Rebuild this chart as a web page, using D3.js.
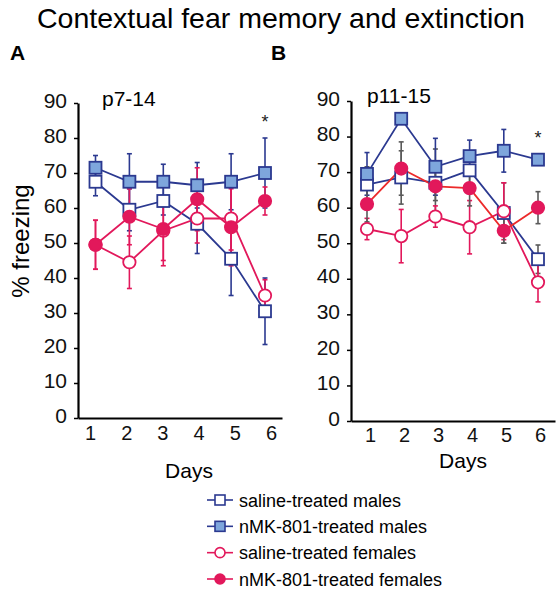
<!DOCTYPE html>
<html><head><meta charset="utf-8">
<script src="https://cdn.jsdelivr.net/npm/d3@7"></script>
<style>
body{margin:0;background:#fff;}
svg{font-family:Arial,"Liberation Sans",Helvetica,sans-serif;}
</style></head>
<body>
<svg id="chart" width="559" height="598"></svg>
<script>
const days = [1, 2, 3, 4, 5, 6];
const yTicks = [0, 10, 20, 30, 40, 50, 60, 70, 80, 90];
const seriesNames = ["saline-treated males", "nMK-801-treated males", "saline-treated females", "nMK-801-treated females"];

// Panel A: p7-14
const aSalineMales     = [67.5, 59.5, 62.0, 55.5, 45.5, 30.5];
const aSalineMalesErr  = [4.0, 6.0, 4.0, 8.5, 10.5, 9.5];
const aNmkMales        = [71.5, 67.5, 67.5, 66.5, 67.5, 70.0];
const aNmkMalesErr     = [3.5, 8.0, 5.0, 6.5, 8.0, 10.0];
const aSalineFemales   = [49.5, 44.5, 53.5, 57.0, 57.0, 35.0];
const aSalineFemalesErr= [7.0, 7.5, 10.0, 7.0, 9.0, 4.5];
const aNmkFemales      = [49.5, 57.5, 54.0, 62.5, 54.5, 62.0];
const aNmkFemalesErr   = [7.0, 8.0, 9.0, 9.0, 11.0, 4.0];

// Panel B: p11-15
const bSalineMales     = [66.5, 68.5, 67.0, 70.5, 58.5, 45.5];
const bSalineMalesErr  = [5.0, 7.5, 9.5, 5.0, 8.5, 4.0];
const bNmkMales        = [69.5, 85.0, 71.5, 74.5, 76.0, 73.5];
const bNmkMalesErr     = [6.0, 1.0, 8.0, 4.5, 6.0, 1.0];
const bSalineFemales   = [54.0, 52.0, 57.5, 54.5, 59.0, 39.0];
const bSalineFemalesErr= [3.0, 7.5, 3.0, 7.5, 8.0, 5.5];
const bNmkFemales      = [61.0, 71.0, 66.0, 65.5, 53.5, 60.0];
const bNmkFemalesErr   = [5.0, 7.5, 4.0, 5.0, 3.5, 4.5];

const navy = "#2b3990", lightBlue = "#7ea6dc", crimson = "#e2185b", red = "#ec2a2a", gray = "#5a5a5a";

const svg = d3.select("#chart");

svg.append("text").attr("x", 281).attr("y", 28).attr("text-anchor", "middle")
  .attr("font-size", 28.5).text("Contextual fear memory and extinction");

svg.append("text").attr("transform", "translate(29,241) rotate(-90)").attr("text-anchor", "middle")
  .attr("font-size", 24).text("% freezing");

function drawPanel(cfg) {
  const g = svg.append("g");
  const x = d3.scaleLinear().domain([1, 6]).range(cfg.xData);
  const xl = d3.scaleLinear().domain([1, 6]).range(cfg.xLabels);
  const xa = d3.scaleLinear().domain([0, 1]).range(cfg.xAxis);
  const y = d3.scaleLinear().domain([0, 90]).range(cfg.yRange);

  g.append("text").attr("x", cfg.letterX).attr("y", 60).attr("font-size", 21)
    .attr("font-weight", "bold").text(cfg.letter);
  g.append("text").attr("x", cfg.titleX).attr("y", cfg.titleY).attr("font-size", 21).text(cfg.title);

  const ya = g.append("g").attr("transform", `translate(${cfg.xAxis[0]},0)`)
    .call(d3.axisLeft(y).tickValues(yTicks).tickSize(4).tickSizeOuter(0).tickPadding(7));
  ya.select(".domain").attr("stroke-width", 2.2).attr("stroke", "#000");
  ya.selectAll(".tick line").attr("stroke-width", 1.5);
  ya.selectAll(".tick text").attr("font-size", 21).attr("fill", "#111").attr("dy", "0.2em")
    .attr("font-family", "Arial, Liberation Sans, sans-serif");

  const xAx = g.append("g").attr("transform", `translate(0,${cfg.yRange[0]})`)
    .call(d3.axisBottom(xa).tickValues([]).tickSizeOuter(0));
  xAx.select(".domain").attr("stroke-width", 2.2).attr("stroke", "#000");
  const xLab = g.append("g").attr("transform", `translate(0,${cfg.yRange[0]})`)
    .call(d3.axisBottom(xl).tickValues(days).tickSize(0).tickPadding(cfg.xPad).tickFormat(d3.format("d")));
  xLab.select(".domain").remove();
  xLab.selectAll(".tick text").attr("font-size", 20).attr("fill", "#111").attr("font-family", "Arial, Liberation Sans, sans-serif");

  g.append("text").attr("x", cfg.daysX).attr("y", cfg.daysY).attr("text-anchor", "middle")
    .attr("font-size", 21).text("Days");

  g.append("text").attr("x", x(6)).attr("y", y(cfg.starV)).attr("text-anchor", "middle")
    .attr("font-size", 18).attr("fill", "#222").text("*");

  const series = cfg.series;
  series.forEach(s => {
    const eb = g.append("g");
    s.vals.forEach((v, i) => {
      const e = s.err[i];
      eb.append("line").attr("x1", x(days[i])).attr("x2", x(days[i]))
        .attr("y1", y(v - e)).attr("y2", y(v + e)).attr("stroke", s.errColor).attr("stroke-width", 1.6);
      [v - e, v + e].forEach(t => {
        eb.append("line").attr("x1", x(days[i]) - 2.5).attr("x2", x(days[i]) + 2.5)
          .attr("y1", y(t)).attr("y2", y(t)).attr("stroke", s.errColor).attr("stroke-width", 1.6);
      });
    });
  });
  series.forEach(s => {
    g.append("path").datum(s.vals)
      .attr("d", d3.line().x((d, i) => x(days[i])).y(d => y(d)))
      .attr("fill", "none").attr("stroke", s.lineColor).attr("stroke-width", 1.8);
  });
  series.forEach(s => {
    s.vals.forEach((v, i) => {
      if (s.shape === "square") {
        g.append("rect").attr("x", x(days[i]) - 6).attr("y", y(v) - 6).attr("width", 12).attr("height", 12)
          .attr("fill", s.fill).attr("stroke", s.stroke).attr("stroke-width", 1.8);
      } else {
        g.append("circle").attr("cx", x(days[i])).attr("cy", y(v)).attr("r", 6.2)
          .attr("fill", s.fill).attr("stroke", s.stroke).attr("stroke-width", 1.8);
      }
    });
  });
}

drawPanel({
  letter: "A", letterX: 10, title: "p7-14", titleX: 102, titleY: 106,
  xData: [95.5, 265], xLabels: [90, 271], xAxis: [78, 282], yRange: [418, 103],
  xPad: 8, daysX: 189, daysY: 478, starV: 83,
  series: [
    {vals: aSalineMales, err: aSalineMalesErr, shape: "square", fill: "#fff", stroke: navy, lineColor: navy, errColor: navy},
    {vals: aNmkMales, err: aNmkMalesErr, shape: "square", fill: lightBlue, stroke: navy, lineColor: navy, errColor: navy},
    {vals: aSalineFemales, err: aSalineFemalesErr, shape: "circle", fill: "#fff", stroke: crimson, lineColor: crimson, errColor: crimson},
    {vals: aNmkFemales, err: aNmkFemalesErr, shape: "circle", fill: crimson, stroke: crimson, lineColor: crimson, errColor: crimson}
  ]
});

drawPanel({
  letter: "B", letterX: 271, title: "p11-15", titleX: 367, titleY: 103,
  xData: [367, 538], xLabels: [370, 540], xAxis: [351, 555], yRange: [421, 101],
  xPad: 7, daysX: 463, daysY: 468, starV: 78,
  series: [
    {vals: bSalineMales, err: bSalineMalesErr, shape: "square", fill: "#fff", stroke: navy, lineColor: navy, errColor: gray},
    {vals: bNmkMales, err: bNmkMalesErr, shape: "square", fill: lightBlue, stroke: navy, lineColor: navy, errColor: navy},
    {vals: bSalineFemales, err: bSalineFemalesErr, shape: "circle", fill: "#fff", stroke: crimson, lineColor: crimson, errColor: crimson},
    {vals: bNmkFemales, err: bNmkFemalesErr, shape: "circle", fill: crimson, stroke: crimson, lineColor: red, errColor: gray}
  ]
});

const legendY = d3.scalePoint().domain(seriesNames).range([500, 579]);
const legendStyles = [
  {shape: "square", fill: "#fff", stroke: navy},
  {shape: "square", fill: lightBlue, stroke: navy},
  {shape: "circle", fill: "#fff", stroke: crimson},
  {shape: "circle", fill: crimson, stroke: crimson}
];
const lg = svg.append("g");
seriesNames.forEach((name, i) => {
  const yy = legendY(name), st = legendStyles[i];
  lg.append("line").attr("x1", 207).attr("x2", 233).attr("y1", yy).attr("y2", yy)
    .attr("stroke", st.stroke).attr("stroke-width", 1.6);
  if (st.shape === "square") {
    lg.append("rect").attr("x", 215).attr("y", yy - 5).attr("width", 10).attr("height", 10)
      .attr("fill", st.fill).attr("stroke", st.stroke).attr("stroke-width", 1.6);
  } else {
    lg.append("circle").attr("cx", 220).attr("cy", yy).attr("r", 5)
      .attr("fill", st.fill).attr("stroke", st.stroke).attr("stroke-width", 1.6);
  }
  lg.append("text").attr("x", 239).attr("y", yy + 6.5).attr("font-size", 18).text(name);
});
</script>
</body></html>
